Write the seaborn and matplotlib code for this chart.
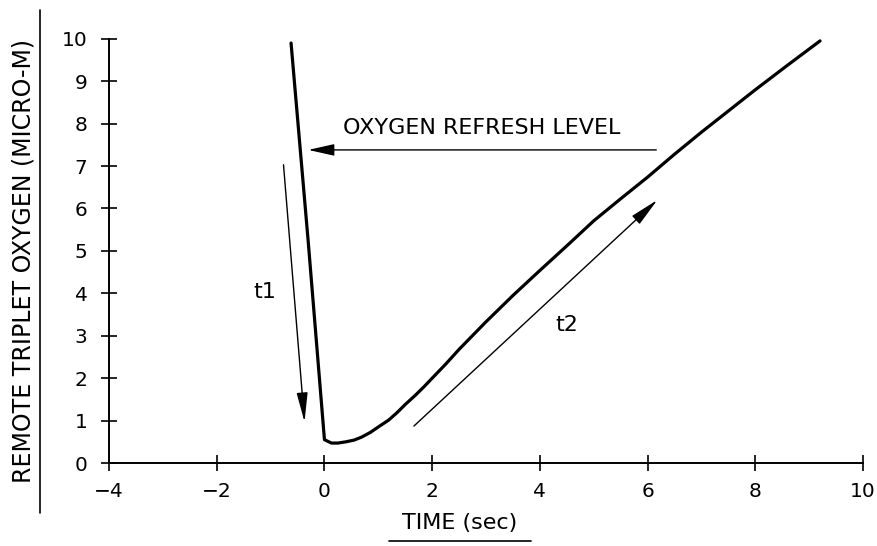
import matplotlib
matplotlib.use('Agg')
import matplotlib.pyplot as plt
import seaborn as sns
import pandas as pd
from matplotlib.lines import Line2D

# values
time_sec = [-0.62, -0.3, 0.0, 0.13, 0.25, 0.4, 0.55, 0.69, 0.85, 1.0, 1.19,
            1.35, 1.5, 1.69, 1.85, 2.0, 2.25, 2.5, 3.0, 3.5, 4.0, 4.5, 5.0,
            5.5, 6.0, 6.5, 7.0, 7.5, 8.0, 8.6, 9.2]
oxygen = [9.9, 5.2, 0.55, 0.47, 0.47, 0.5, 0.54, 0.61, 0.72, 0.85, 1.01,
          1.19, 1.38, 1.6, 1.8, 2.0, 2.33, 2.68, 3.33, 3.95, 4.54, 5.12, 5.71,
          6.23, 6.74, 7.28, 7.8, 8.3, 8.8, 9.38, 9.95]

x_ticks = [-4, -2, 0, 2, 4, 6, 8, 10]
y_ticks = list(range(0, 11))

df = pd.DataFrame({'time': time_sec, 'oxygen': oxygen})

sns.set_style('ticks')
plt.rcParams['font.family'] = ['DejaVu Sans']
plt.rcParams['text.color'] = 'black'

fig = plt.figure(figsize=(8.78, 5.46), dpi=100)
ax = fig.add_axes([0.1241, 0.152, 0.859, 0.777])

sns.lineplot(data=df, x='time', y='oxygen', ax=ax, color='black',
             linewidth=2.3, sort=False)

ax.set_xlim(-4, 10)
ax.set_ylim(0, 10)
ax.set_xticks(x_ticks)
ax.set_yticks(y_ticks)
ax.set_xticklabels(['\u22124', '\u22122', '0', '2', '4', '6', '8', '10'])
ax.tick_params(direction='inout', length=11, width=1.2, color='black',
               labelsize=14.5, labelcolor='black')
ax.tick_params(axis='y', pad=10)
ax.tick_params(axis='x', pad=8)
sns.despine(ax=ax)
for s in ['left', 'bottom']:
    ax.spines[s].set_linewidth(1.4)
    ax.spines[s].set_color('black')
ax.set_xlabel('')
ax.set_ylabel('')

# axis titles, underlined as in the original
fig.text(0.027, 0.522, 'REMOTE TRIPLET OXYGEN (MICRO-M)', rotation=90,
         ha='center', va='center', fontsize=17, color='black')
fig.add_artist(Line2D([0.046, 0.046], [1 - 513 / 546, 1 - 10 / 546],
                      transform=fig.transFigure, color='black', lw=1.2))
fig.text(460 / 878, 1 - 523 / 546, 'TIME (sec)', ha='center', va='center',
         fontsize=16, color='black')
fig.add_artist(Line2D([389 / 878, 531 / 878], [1 - 541 / 546, 1 - 541 / 546],
                      transform=fig.transFigure, color='black', lw=1.2))

# annotations
ax.annotate('', xy=(-0.30, 7.38), xytext=(6.16, 7.38),
            arrowprops=dict(arrowstyle='-|>,head_length=0.8,head_width=0.18',
                            mutation_scale=20, color='black', lw=1.0,
                            shrinkA=0, shrinkB=0))
ax.text(0.35, 7.9, 'OXYGEN REFRESH LEVEL', fontsize=16, ha='left',
        va='center', color='black')

ax.annotate('', xy=(-0.37, 0.97), xytext=(-0.76, 7.03),
            arrowprops=dict(arrowstyle='-|>,head_length=0.9,head_width=0.17',
                            mutation_scale=20, color='black', lw=1.0,
                            shrinkA=0, shrinkB=0))
ax.text(-1.1, 4.03, 't1', fontsize=16, ha='center', va='center',
        color='black')

ax.annotate('', xy=(6.18, 6.2), xytext=(1.66, 0.87),
            arrowprops=dict(arrowstyle='-|>,head_length=0.9,head_width=0.17',
                            mutation_scale=20, color='black', lw=1.0,
                            shrinkA=0, shrinkB=0))
ax.text(4.49, 3.25, 't2', fontsize=16, ha='center', va='center',
        color='black')

fig.savefig('out.png', dpi=100)
